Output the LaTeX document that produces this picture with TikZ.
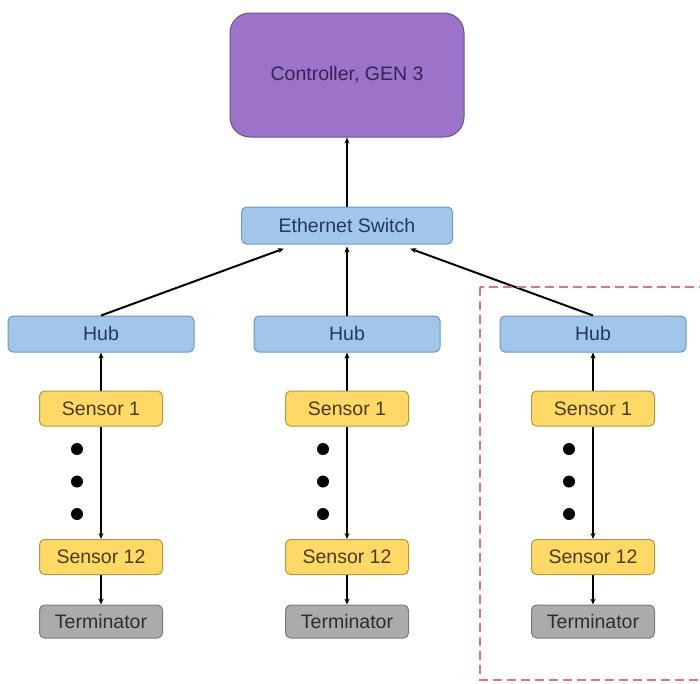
\documentclass[tikz,border=0pt]{standalone}
\usepackage{fontspec}
\setmainfont{Liberation Sans}
\usetikzlibrary{arrows.meta}
\definecolor{ctrlfill}{HTML}{9B74C9}
\definecolor{ctrldraw}{HTML}{6C4E96}
\definecolor{ctrltext}{HTML}{3A2158}
\definecolor{hubfill}{HTML}{A2C6EA}
\definecolor{hubdraw}{HTML}{6E96C6}
\definecolor{hubtext}{HTML}{1E3A5C}
\definecolor{sensfill}{HTML}{FFD966}
\definecolor{sensdraw}{HTML}{B8983C}
\definecolor{senstext}{HTML}{4A3A05}
\definecolor{termfill}{HTML}{ABABAE}
\definecolor{termdraw}{HTML}{7A7A7E}
\definecolor{termtext}{HTML}{2E2E30}
\definecolor{zonered}{HTML}{E57373}
\tikzset{
  box/.style={draw, line width=1pt, rounded corners=5pt, inner sep=0pt,
    font=\fontsize{19.5}{23}\selectfont},
  ctrl/.style={box, fill=ctrlfill, draw=ctrldraw, text=ctrltext,
    rounded corners=20pt, minimum width=234pt, minimum height=124pt},
  switch/.style={box, fill=hubfill, draw=hubdraw, text=hubtext,
    minimum width=211pt, minimum height=37pt},
  hub/.style={box, fill=hubfill, draw=hubdraw, text=hubtext,
    minimum width=186pt, minimum height=36pt},
  sensor/.style={box, fill=sensfill, draw=sensdraw, text=senstext,
    minimum width=123pt, minimum height=35pt},
  term/.style={box, fill=termfill, draw=termdraw, text=termtext,
    minimum width=123pt, minimum height=33pt}
}
\begin{document}
\begin{tikzpicture}[x=1pt,y=-1pt,
  >={Stealth[length=6pt,width=5pt]},
  edge from parent/.style={draw, line width=2pt},
  level 1/.style={level distance=150.5pt},
  level 2/.style={level distance=108.5pt, sibling distance=246pt, child anchor=north},
  level 3/.style={level distance=74.5pt},
  level 4/.style={level distance=148.5pt},
  level 5/.style={level distance=64.5pt}]
\clip (0,0) rectangle (700,683);
\node[ctrl] (ctrl) at (347,75) {Controller, GEN 3}
child {node[switch] (sw) {Ethernet Switch}
  child {node[hub] (hubA) {Hub}
    child {node[sensor] (firstA) {Sensor 1}
      child {node[sensor] (lastA) {Sensor 12}
        child {node[term] (endA) {Terminator} edge from parent[->]}
      edge from parent[->]}
    edge from parent[<-]}
  edge from parent[<-, shorten <=12pt]}
  child {node[hub] (hubB) {Hub}
    child {node[sensor] (firstB) {Sensor 1}
      child {node[sensor] (lastB) {Sensor 12}
        child {node[term] (endB) {Terminator} edge from parent[->]}
      edge from parent[->]}
    edge from parent[<-]}
  edge from parent[<-, shorten <=2pt]}
  child {node[hub] (hubC) {Hub}
    child {node[sensor] (firstC) {Sensor 1}
      child {node[sensor] (lastC) {Sensor 12}
        child {node[term] (endC) {Terminator} edge from parent[->]}
      edge from parent[->]}
    edge from parent[<-]}
  edge from parent[<-, shorten <=12pt]}
edge from parent[<-]};
% dots between sensor 1 and sensor 12
\foreach \col in {firstA,firstB,firstC}
  \foreach \d in {40.5,73,105.5}
    \fill ([xshift=-24pt,yshift=-\d pt]\col.center) circle (6);
% the third group
\draw[zonered, line width=1.8pt, dash pattern=on 9pt off 5pt] (480,287) rectangle (712,680);
\end{tikzpicture}
\end{document}
